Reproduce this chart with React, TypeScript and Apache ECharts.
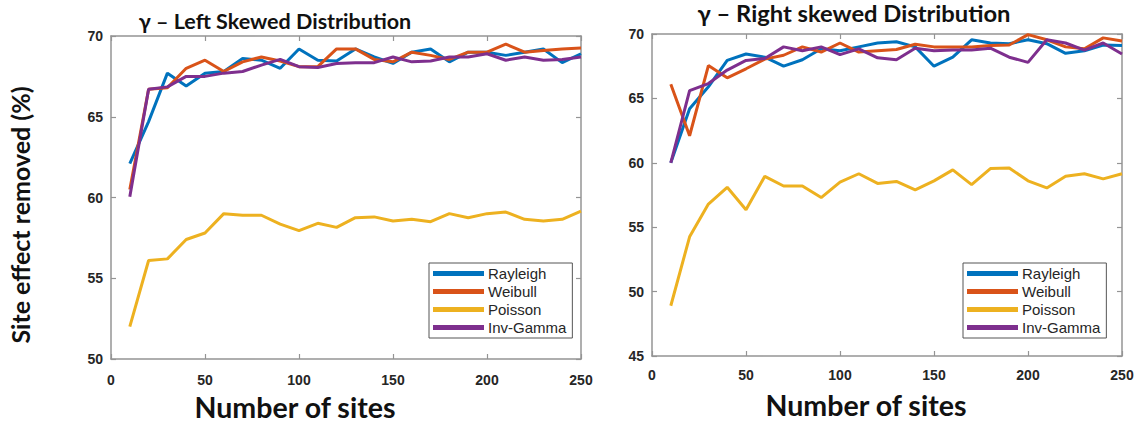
import React, { useEffect, useRef } from "react";
import * as echarts from "echarts";

const sites = [10, 20, 30, 40, 50, 60, 70, 80, 90, 100, 110, 120, 130, 140, 150, 160, 170, 180, 190, 200, 210, 220, 230, 240, 250];
const seriesNames = ["Rayleigh", "Weibull", "Poisson", "Inv-Gamma"];
const seriesColors = ["#0072BD", "#D95319", "#EDB120", "#7E2F8E"];

// Left skewed distribution
const leftRayleigh = [62.1, 64.7, 67.7, 66.9, 67.7, 67.8, 68.6, 68.5, 68.0, 69.2, 68.5, 68.45, 69.2, 68.7, 68.3, 69.0, 69.2, 68.4, 69.0, 69.0, 68.8, 69.0, 69.2, 68.35, 68.9];
const leftWeibull = [60.5, 66.7, 66.8, 68.0, 68.5, 67.8, 68.4, 68.7, 68.45, 68.1, 68.1, 69.2, 69.2, 68.55, 68.4, 69.0, 68.8, 68.55, 69.0, 69.0, 69.5, 69.0, 69.1, 69.2, 69.25];
const leftPoisson = [52.0, 56.1, 56.2, 57.4, 57.8, 59.0, 58.9, 58.9, 58.35, 57.95, 58.4, 58.15, 58.75, 58.8, 58.55, 58.65, 58.5, 59.0, 58.75, 59.0, 59.1, 58.65, 58.55, 58.65, 59.15];
const leftInvGamma = [60.05, 66.7, 66.85, 67.5, 67.5, 67.7, 67.8, 68.2, 68.55, 68.1, 68.05, 68.3, 68.35, 68.35, 68.7, 68.4, 68.45, 68.7, 68.7, 68.9, 68.5, 68.7, 68.5, 68.55, 68.7];

// Right skewed distribution
const rightRayleigh = [60.0, 64.2, 65.9, 67.95, 68.45, 68.2, 67.5, 68.0, 68.85, 68.7, 69.0, 69.3, 69.4, 69.0, 67.5, 68.2, 69.55, 69.3, 69.25, 69.55, 69.25, 68.5, 68.7, 69.15, 69.1];
const rightWeibull = [66.1, 62.1, 67.55, 66.6, 67.3, 68.05, 68.35, 69.0, 68.6, 69.3, 68.6, 68.7, 68.8, 69.2, 69.0, 69.0, 69.0, 69.1, 69.15, 69.95, 69.55, 69.0, 68.85, 69.7, 69.45];
const rightPoisson = [48.9, 54.25, 56.8, 58.1, 56.35, 58.95, 58.2, 58.2, 57.3, 58.5, 59.15, 58.4, 58.55, 57.9, 58.6, 59.45, 58.3, 59.55, 59.6, 58.6, 58.05, 58.95, 59.15, 58.75, 59.15];
const rightInvGamma = [60.0, 65.6, 66.15, 67.2, 67.95, 68.1, 69.0, 68.7, 69.0, 68.4, 68.85, 68.15, 68.0, 68.9, 68.7, 68.75, 68.75, 68.9, 68.2, 67.8, 69.55, 69.3, 68.75, 69.3, 68.45];

const xTicks = [0, 50, 100, 150, 200, 250];
const leftYRange = [50, 70];
const rightYRange = [45, 70];

const leftData = [leftRayleigh, leftWeibull, leftPoisson, leftInvGamma];
const rightData = [rightRayleigh, rightWeibull, rightPoisson, rightInvGamma];

const AXIS_COLOR = "#949494";
const LABEL_COLOR = "#262626";

function xAxesFor(grid: number, labelMargin: number) {
  const base = {
    gridIndex: grid,
    type: "value" as const,
    min: xTicks[0],
    max: xTicks[xTicks.length - 1],
    interval: xTicks[1] - xTicks[0],
    splitLine: { show: false },
    axisLine: { show: true, onZero: false, lineStyle: { color: AXIS_COLOR, width: 1.5 } },
    axisTick: { show: true, inside: true, length: 5, lineStyle: { color: AXIS_COLOR, width: 1.2 } },
  };
  return [
    {
      ...base,
      position: "bottom",
      axisLabel: { show: true, margin: labelMargin, color: LABEL_COLOR, fontFamily: "Liberation Sans", fontWeight: "bold", fontSize: 14 },
    },
    { ...base, position: "top", axisLabel: { show: false } },
  ];
}

function yAxesFor(grid: number, range: number[]) {
  const base = {
    gridIndex: grid,
    type: "value" as const,
    min: range[0],
    max: range[1],
    interval: 5,
    splitLine: { show: false },
    axisLine: { show: true, onZero: false, lineStyle: { color: AXIS_COLOR, width: 1.5 } },
    axisTick: { show: true, inside: true, length: 5, lineStyle: { color: AXIS_COLOR, width: 1.2 } },
  };
  return [
    {
      ...base,
      position: "left",
      axisLabel: { show: true, margin: 8, color: LABEL_COLOR, fontFamily: "Liberation Sans", fontWeight: "bold", fontSize: 14 },
    },
    { ...base, position: "right", axisLabel: { show: false } },
  ];
}

function seriesFor(data: number[][], axisIndex: number) {
  return data.map((vals, i) => ({
    type: "line" as const,
    name: seriesNames[i],
    xAxisIndex: axisIndex,
    yAxisIndex: axisIndex,
    data: sites.map((s, k) => [s, vals[k]]),
    showSymbol: false,
    symbol: "none",
    lineStyle: { color: seriesColors[i], width: 3 },
    itemStyle: { color: seriesColors[i] },
    z: 10 + i,
  }));
}

function legendAt(left: number) {
  return {
    orient: "vertical" as const,
    left,
    top: 263,
    data: seriesNames,
    icon: "rect",
    itemWidth: 51,
    itemHeight: 5,
    itemGap: 3,
    padding: [3, 6, 3, 4],
    borderColor: "#555",
    borderWidth: 1,
    backgroundColor: "#fff",
    selectedMode: false,
    textStyle: { color: LABEL_COLOR, fontFamily: "Liberation Sans", fontSize: 15, padding: [0, 0, 0, -1] },
  };
}

export default function App() {
  const ref = useRef<HTMLDivElement>(null);
  useEffect(() => {
    if (!ref.current) return;
    const chart = echarts.init(ref.current, null, { renderer: "svg" });
    const titleFont = "Lato";
    chart.setOption({
      animation: false,
      backgroundColor: "#fff",
      color: seriesColors,
      grid: [
        { left: 111, top: 36, width: 470, height: 323 },
        { left: 652, top: 34, width: 470, height: 322 },
      ],
      xAxis: [...xAxesFor(0, 14), ...xAxesFor(1, 12)],
      yAxis: [...yAxesFor(0, leftYRange), ...yAxesFor(1, rightYRange)],
      legend: [legendAt(429), legendAt(963)],
      series: [...seriesFor(leftData, 0), ...seriesFor(rightData, 2)],
      graphic: [
        {
          type: "text",
          x: 275,
          y: 21,
          scaleX: 1.05,
          style: { text: "γ – Left Skewed Distribution", fontFamily: titleFont, fontWeight: "bold", fontSize: 20.5, fill: "#111", textAlign: "center", textVerticalAlign: "middle" },
        },
        {
          type: "text",
          x: 854,
          y: 13,
          scaleX: 1.08,
          style: { text: "γ – Right skewed Distribution", fontFamily: titleFont, fontWeight: "bold", fontSize: 22, fill: "#111", textAlign: "center", textVerticalAlign: "middle" },
        },
        {
          type: "text",
          x: 20,
          y: 215,
          rotation: Math.PI / 2,
          style: { text: "Site effect removed (%)", fontFamily: titleFont, fontWeight: "bold", fontSize: 25, fill: "#111", textAlign: "center", textVerticalAlign: "middle" },
        },
        {
          type: "text",
          x: 295,
          y: 407,
          scaleX: 1.02,
          style: { text: "Number of sites", fontFamily: titleFont, fontWeight: "bold", fontSize: 28, fill: "#111", textAlign: "center", textVerticalAlign: "middle" },
        },
        {
          type: "text",
          x: 866,
          y: 405,
          scaleX: 1.02,
          style: { text: "Number of sites", fontFamily: titleFont, fontWeight: "bold", fontSize: 28, fill: "#111", textAlign: "center", textVerticalAlign: "middle" },
        },
      ],
    });
    return () => chart.dispose();
  }, []);
  return <div ref={ref} style={{ position: "fixed", left: 0, top: 0, width: 1139, height: 425 }} />;
}
